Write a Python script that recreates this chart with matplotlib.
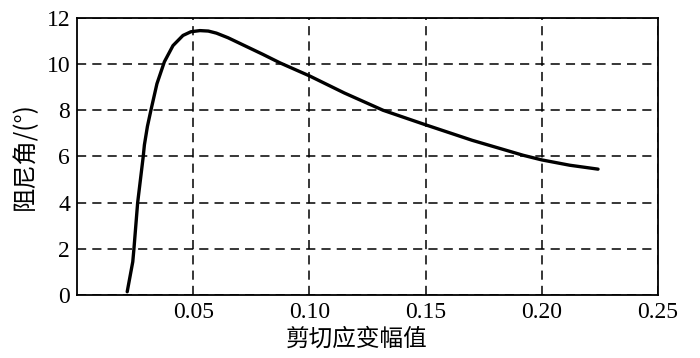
import matplotlib
matplotlib.use("Agg")
import matplotlib.pyplot as plt

strain = [0.0216, 0.0240, 0.0245, 0.0261, 0.0285, 0.0290, 0.0303, 0.0318, 0.0344, 0.0376,
          0.0413, 0.0456, 0.0490, 0.0529, 0.0565, 0.0600, 0.0650, 0.0700, 0.0800, 0.0874,
          0.1000, 0.1150, 0.1317, 0.1500, 0.1700, 0.1920, 0.2000, 0.2120, 0.2242]
damping = [0.14, 1.44, 2.0, 4.0, 6.0, 6.5, 7.3, 8.0, 9.15, 10.1,
           10.8, 11.24, 11.40, 11.45, 11.43, 11.34, 11.14, 10.9, 10.42, 10.05,
           9.49, 8.75, 8.0, 7.37, 6.7, 6.05, 5.85, 5.62, 5.45]
xticks = [0.05, 0.10, 0.15, 0.20, 0.25]
xticklabels = ["0.05", "0.10", "0.15", "0.20", "0.25"]
yticks = [0, 2, 4, 6, 8, 10, 12]

fam = ['Liberation Serif', 'Noto Sans CJK SC']
plt.rcParams['font.family'] = fam

fig = plt.figure(figsize=(7, 3.58), dpi=100)
ax = fig.add_axes([0.11, 0.176, 0.83, 0.774])
ax.plot(strain, damping, color='black', lw=2.4, solid_capstyle='round', solid_joinstyle='round')
ax.set_xlim(0, 0.25)
ax.set_ylim(0, 12)
ax.set_xticks(xticks)
ax.set_xticklabels(xticklabels)
ax.set_yticks(yticks)
ax.grid(True, color='black', linestyle=(0, (6, 4)), linewidth=1.1)
ax.tick_params(length=0, labelsize=17, pad=5)
for s in ax.spines.values():
    s.set_linewidth(1.3)
ax.set_xlabel('剪切应变幅值', fontsize=17, labelpad=4, x=0.481)
ax.set_ylabel('阻尼角/(°)', fontsize=17.5, labelpad=6, family=['Noto Sans CJK SC'])
fig.savefig('out.png', dpi=100)
